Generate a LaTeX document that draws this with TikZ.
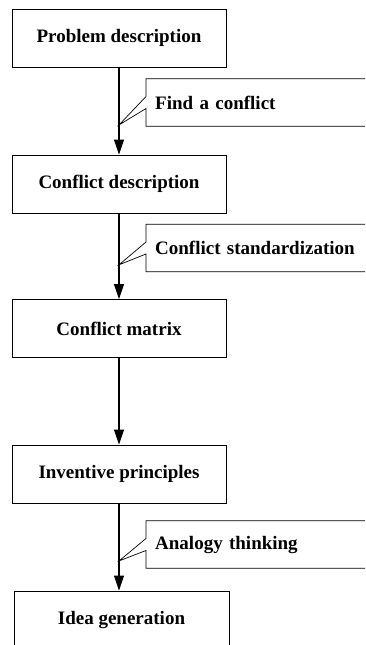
\documentclass[tikz,border=0pt]{standalone}
\usepackage{fontspec}
\setmainfont{Liberation Serif}
\usetikzlibrary{arrows.meta, calc}

\begin{document}
\begin{tikzpicture}[x=1pt, y=-1pt,
  stage/.style={rectangle, draw, line width=0.9pt, minimum width=214pt,
                minimum height=58pt, font=\fontsize{19}{22}\selectfont\bfseries},
  flow/.style={line width=1.2pt, -{Triangle[length=15pt, width=10pt]}},
  note/.style={rectangle, minimum width=230pt, minimum height=47pt,
               text width=212pt, inner xsep=9pt, align=left, anchor=west,
               font=\fontsize{19}{22}\selectfont\bfseries},
  notch/.style={line width=0.7pt},
]
\clip (0,0) rectangle (365,645);

% stages
\node[stage] (prob) at (119,38) {Problem description};
\node[stage] (desc) at (119,184) {Conflict description};
\node[stage] (matr) at (119,328.5) {Conflict matrix};
\node[stage] (insp) at (119,474) {Inventive principles};
\node[stage, minimum width=215pt] (idea) at (121.5,620) {Idea generation};

% flow
\draw[flow] (prob) -- (desc);
\draw[flow] (desc) -- (matr);
\draw[flow] (matr) -- (insp);
\draw[flow] (insp.south) -- (insp.south |- idea.north);

% callouts
\coordinate (t1) at ($(prob.south)!0.66!(desc.north)$);
\coordinate (t2) at ($(desc.south)!0.6!(matr.north)$);
\coordinate (t3) at ($(insp.south)!0.66!(insp.south |- idea.north)$);
\node[note] (find) at (146,102.5) {Find a conflict};
\node[note] (stdz) at (146,248) {Conflict standardization};
\node[note] (anal) at (146,544.5) {Analogy thinking};
\foreach \c/\t in {find/t1, stdz/t2, anal/t3} {
  \draw[notch] (\c.north east) -- (\c.north west) -- ([yshift=6pt]\c.west)
    -- (\t) -- ([yshift=-6pt]\c.west) -- (\c.south west) -- (\c.south east);
}
\end{tikzpicture}
\end{document}
